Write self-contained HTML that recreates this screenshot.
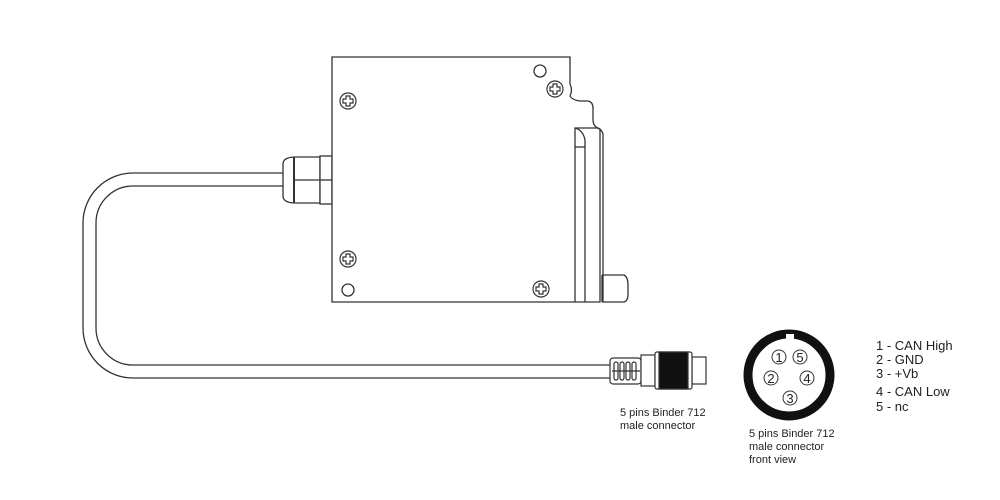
<!DOCTYPE html>
<html><head><style>body{margin:0;background:#fff}svg{display:block}text{font-family:"Liberation Sans",sans-serif;fill:#222}</style></head><body>
<svg width="1000" height="500" viewBox="0 0 1000 500" xmlns="http://www.w3.org/2000/svg">
<g fill="none" stroke="#333" stroke-width="1.3">
<path d="M283 173 H133 A50 50 0 0 0 83 223 V328 A50 50 0 0 0 133 378 H612"/>
<path d="M283 186 H133 A37 37 0 0 0 96 223 V328 A37 37 0 0 0 133 365 H612"/>
<path d="M296 157 H320 V203 H296 Q283 203 283 196 V164 Q283 157 296 157 Z" fill="#fff"/>
<line x1="294" y1="157" x2="294" y2="203" stroke-width="2"/>
<line x1="294" y1="180" x2="320" y2="180"/>
<rect x="320" y="156" width="12" height="48" fill="#fff"/>
<line x1="320" y1="180" x2="332" y2="180"/>
<path d="M332 57 H570 V84 Q573 90 570 96 Q572 100 580 101 H588 Q593 102 593 108 V120 Q593 127 600 129 V302 H332 Z" fill="#fff"/>
<path d="M575 302 V128 H598 Q602 130 603 134 V302"/>
<path d="M575 128 Q583 130 585 140 V302"/>
<line x1="575" y1="147" x2="585" y2="147"/>
<path d="M602 275 H624 Q628 277 628 285 V294 Q628 301 624 302 H602"/>
<line x1="602" y1="275" x2="602" y2="302"/>
<circle cx="540" cy="71" r="6"/>
<circle cx="348" cy="290" r="6"/>
</g>
<g fill="none" stroke="#333" stroke-width="1.2">
<g transform="translate(348,101)"><circle r="8"/><path d="M-2 -5 H2 V-2 H5 V2 H2 V5 H-2 V2 H-5 V-2 H-2 Z"/></g>
<g transform="translate(555,89)"><circle r="8"/><path d="M-2 -5 H2 V-2 H5 V2 H2 V5 H-2 V2 H-5 V-2 H-2 Z"/></g>
<g transform="translate(348,259)"><circle r="8"/><path d="M-2 -5 H2 V-2 H5 V2 H2 V5 H-2 V2 H-5 V-2 H-2 Z"/></g>
<g transform="translate(541,289)"><circle r="8"/><path d="M-2 -5 H2 V-2 H5 V2 H2 V5 H-2 V2 H-5 V-2 H-2 Z"/></g>
</g>
<g stroke="#333" stroke-width="1.2" fill="#fff">
<rect x="610" y="358" width="31" height="26" rx="3"/>
<rect x="614" y="362" width="4" height="18" rx="2"/>
<rect x="620" y="362" width="4" height="18" rx="2"/>
<rect x="626" y="362" width="4" height="18" rx="2"/>
<rect x="632" y="362" width="4" height="18" rx="2"/>
<line x1="612" y1="371" x2="640" y2="371"/>
<rect x="641" y="355" width="14" height="31"/>
<rect x="692" y="357" width="14" height="27"/>
<rect x="655" y="352" width="37" height="37" rx="2"/>
<rect x="659" y="352" width="29" height="37" fill="#111"/>
</g>
<circle cx="789" cy="375" r="41" fill="none" stroke="#111" stroke-width="9"/>
<rect x="786" y="334" width="8" height="6" fill="#fff"/>
<g fill="none" stroke="#333" stroke-width="1">
<circle cx="779" cy="357" r="7"/><circle cx="800" cy="357" r="7"/>
<circle cx="771" cy="378" r="7"/><circle cx="807" cy="378" r="7"/>
<circle cx="790" cy="398" r="7"/>
</g>
<g font-size="13" text-anchor="middle">
<text x="779" y="362">1</text><text x="800" y="362">5</text>
<text x="771" y="383">2</text><text x="807" y="383">4</text>
<text x="790" y="403">3</text>
</g>
<g font-size="11">
<text x="620" y="416">5 pins Binder 712</text>
<text x="620" y="429">male connector</text>
<text x="749" y="437">5 pins Binder 712</text>
<text x="749" y="450">male connector</text>
<text x="749" y="463">front view</text>
</g>
<g font-size="13">
<text x="876" y="350">1 - CAN High</text>
<text x="876" y="364">2 - GND</text>
<text x="876" y="378">3 - +Vb</text>
<text x="876" y="396">4 - CAN Low</text>
<text x="876" y="411">5 - nc</text>
</g>
</svg>
</body></html>
